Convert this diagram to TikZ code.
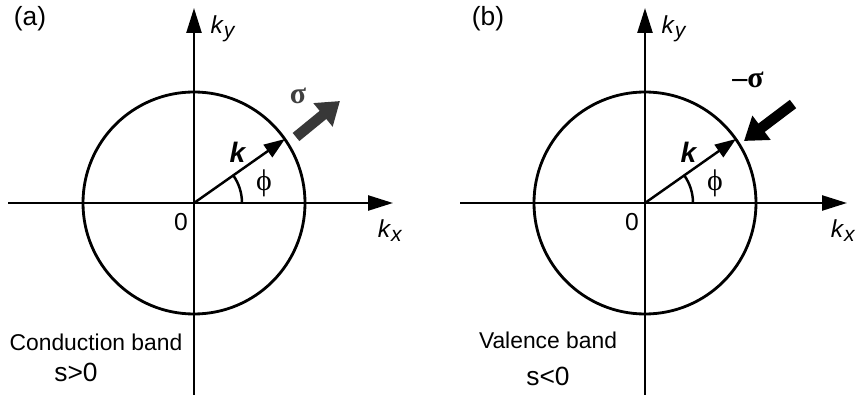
\documentclass[tikz,border=0pt]{standalone}
\usepackage{fontspec}
\setmainfont{Liberation Sans}
\newfontfamily\greekfont{Liberation Serif}
\usetikzlibrary{arrows.meta}

\begin{document}
\begin{tikzpicture}[
    x=0.02cm, y=-0.02cm,
    font=\fontsize{13}{15}\selectfont,
    axis/.style={line width=1.4pt, -{Triangle[length=0.5cm, width=0.3cm]}},
    kvec/.style={line width=1.4pt, -{Triangle[length=0.42cm, width=0.3cm]}},
    bandcircle/.style={line width=1.6pt},
    anglearc/.style={line width=1.4pt},
    spinarrow/.style={line width=0.21cm, -{Triangle[length=0.44cm, width=0.58cm]}},
    axlabel/.style={font=\fontsize{14}{16}\selectfont, inner sep=1pt},
    klabel/.style={font=\fontsize{16}{18}\selectfont, inner sep=1pt},
    greeklabel/.style={font=\fontsize{17}{19}\selectfont\greekfont, inner sep=1pt},
    panellabel/.style={font=\fontsize{15}{17}\selectfont},
    signlabel/.style={font=\fontsize{15}{17}\selectfont}
]
\useasboundingbox (0,0) rectangle (856,395);

%--------
% (a) conduction band
%--------
\coordinate (Oa) at (194,203);
\coordinate (ya0) at (194,395);
\coordinate (ya1) at (194,8);
\coordinate (xa0) at (8,203);
\coordinate (xa1) at (393,203);
\coordinate (ka) at (285,139);
\coordinate (sa0) at (296,137);
\coordinate (sa1) at (340,101);

\node[panellabel] (lbla) at (30,19) {(a)};
\draw[axis] (ya0) -- (ya1);
\draw[axis] (xa0) -- (xa1);
\draw[bandcircle] (Oa) circle[radius=111];
\draw[kvec] (Oa) -- (ka);
\draw[anglearc] ([shift={(48,0)}]Oa) arc[start angle=0, end angle=-35, radius=48];
\draw[spinarrow, draw=black!78] (sa0) -- (sa1);

\node[axlabel] (kya) at (223,29) {\textit{k}{\fontsize{12}{12}\selectfont\raisebox{-0.35ex}{\textit{y}}}};
\node[axlabel] (kxa) at (390,231) {\textit{k}{\fontsize{12}{12}\selectfont\raisebox{-0.35ex}{\textit{x}}}};
\node[axlabel] (zeroa) at (181,222) {0};
\node[klabel] (klbla) at (238,152) {\textbf{\textit{k}}};
\node[greeklabel] (phia) at (264,183) {ϕ};
\node[greeklabel, text=black!75] (sigma) at (298,96) {\textbf{σ}};
\node (banda) at (96,342) {Conduction band};
\node[signlabel] (signa) at (76,372) {s{\textgreater}0};

%--------
% (b) valence band
%--------
\coordinate (Ob) at (645,203);
\coordinate (yb0) at (645,395);
\coordinate (yb1) at (645,8);
\coordinate (xb0) at (460,203);
\coordinate (xb1) at (847,203);
\coordinate (kb) at (736,139);
\coordinate (sb0) at (793,104);
\coordinate (sb1) at (744,141);

\node[panellabel] (lblb) at (488,19) {(b)};
\draw[axis] (yb0) -- (yb1);
\draw[axis] (xb0) -- (xb1);
\draw[bandcircle] (Ob) circle[radius=111];
\draw[kvec] (Ob) -- (kb);
\draw[anglearc] ([shift={(48,0)}]Ob) arc[start angle=0, end angle=-35, radius=48];
\draw[spinarrow] (sb0) -- (sb1);

\node[axlabel] (kyb) at (674,29) {\textit{k}{\fontsize{12}{12}\selectfont\raisebox{-0.35ex}{\textit{y}}}};
\node[axlabel] (kxb) at (843,231) {\textit{k}{\fontsize{12}{12}\selectfont\raisebox{-0.35ex}{\textit{x}}}};
\node[axlabel] (zerob) at (632,222) {0};
\node[klabel] (klblb) at (689,152) {\textbf{\textit{k}}};
\node[greeklabel] (phib) at (715,183) {ϕ};
\node[greeklabel] (msigma) at (748,80) {\textbf{–σ}};
\node (bandb) at (548,340) {Valence band};
\node[signlabel] (signb) at (548,376) {s{\textless}0};

\end{tikzpicture}
\end{document}
